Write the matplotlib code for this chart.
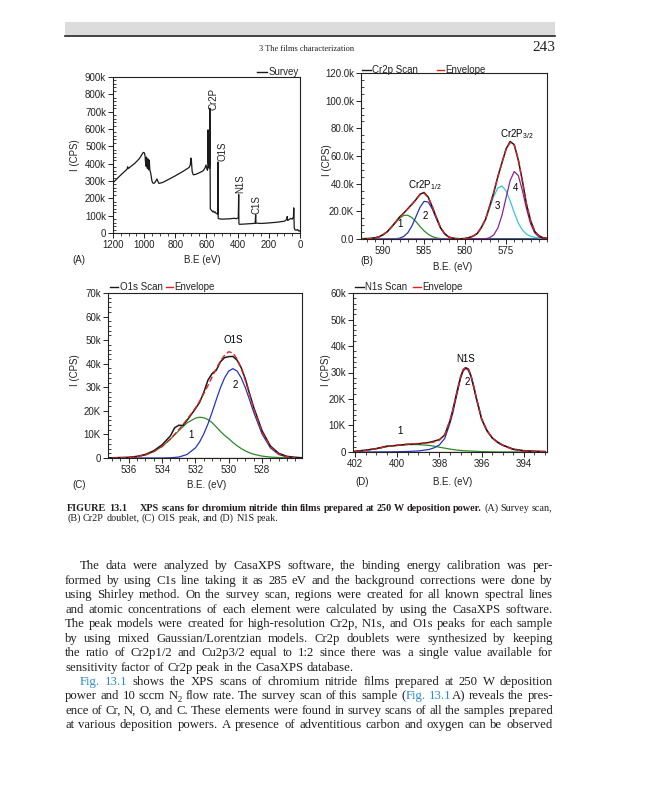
import math
import matplotlib
matplotlib.use('Agg')
import matplotlib.pyplot as plt
from matplotlib.ticker import MultipleLocator
from matplotlib.lines import Line2D
from matplotlib.patches import Rectangle
from matplotlib.font_manager import FontProperties

W, H = 647, 800
SANS = ['Liberation Sans', 'DejaVu Sans']
SERIF = 'Liberation Serif'
plt.rcParams['font.family'] = SANS
plt.rcParams['mathtext.fontset'] = 'custom'
plt.rcParams['mathtext.rm'] = 'Liberation Sans'
plt.rcParams['mathtext.it'] = 'Liberation Sans:italic'
plt.rcParams['mathtext.bf'] = 'Liberation Sans:bold'

# ---------------- data ----------------
# (A) survey scan: binding energy (eV) and intensity (k CPS)
survey_ev = [1200, 1150, 1110, 1106, 1102, 1060, 1030, 1015, 1006, 998, 994, 991, 988, 985, 982,
             979, 976, 973, 970, 967, 964, 958, 950, 944, 935, 925, 918, 912, 905, 880, 850, 800,
             750, 712, 704, 700, 697, 692, 685, 670, 640, 620, 610, 603, 598, 594, 591.5, 590,
             588.5, 584, 581, 579.5, 578.5, 577, 575.5, 570, 565, 560, 555, 550, 545, 540, 535,
             528, 526.5, 525, 520, 500, 450, 420, 410, 396, 393.5, 392, 390, 350, 300, 288, 284.5,
             282.5, 250, 200, 150, 100, 85, 82, 79, 60, 50, 42, 40, 37, 32, 25, 15, 10, 5, 0]
survey_k = [290, 335, 368, 382, 372, 402, 430, 452, 465, 462, 442, 405, 385, 438, 385,
            372, 428, 372, 364, 420, 366, 345, 300, 288, 287, 300, 312, 298, 286, 292, 306, 330,
            356, 378, 392, 432, 418, 355, 336, 338, 350, 360, 375, 392, 372, 362, 380, 595,
            410, 380, 372, 400, 720, 420, 140, 132, 128, 122, 126, 118, 122, 115, 112,
            110, 410, 84, 82, 80, 82, 85, 82, 88, 222, 56, 50, 52, 55, 56, 105,
            57, 55, 58, 62, 68, 78, 95, 72, 84, 80, 92, 145, 30, 18, 16, 20, 12, 14, 10]
survey_peaks = ['Cr2P', 'O1S', 'N1S', 'C1S']
survey_peak_ev = [557, 500, 385, 277]
survey_peak_k = [712, 418, 228, 112]

# (B) Cr2p region (k CPS)
cr_ev = [593, 592, 591.5, 591, 590.5, 590, 589.5, 589, 588.5, 588, 587.5, 587, 586.5, 586, 585.5,
         585, 584.5, 584, 583.5, 583, 582.5, 582, 581.5, 581, 580.5, 580, 579.5, 579, 578.5, 578,
         577.5, 577, 576.5, 576, 575.5, 575, 574.5, 574, 573.5, 573, 572.5, 572, 571.5, 571,
         570.5, 570]
cr_scan = [0.2, 0.3, 0.5, 0.9, 1.6, 3.2, 5.2, 8.6, 12.0, 15.9, 18.6, 21.9, 25.0, 28.4, 32.4,
           33.6, 30.3, 23.2, 15.6, 8.2, 3.9, 1.5, 0.6, 0.3, 0.2, 0.4, 1.1, 2.2, 4.0, 8.5,
           14.2, 23.8, 33.5, 45.1, 55.0, 65.0, 70.5, 68.2, 57.0, 41.9, 25.0, 13.3, 5.5, 2.4,
           1.0, 0.6]
cr_env = [0.0, 0.1, 0.3, 0.7, 1.5, 3.0, 5.3, 8.4, 12.1, 15.6, 18.8, 21.6, 24.8, 28.6, 32.0,
          33.1, 30.1, 23.5, 15.4, 8.4, 3.8, 1.4, 0.5, 0.1, 0.1, 0.3, 1.0, 2.0, 4.2, 8.2,
          14.5, 23.4, 33.8, 44.7, 55.4, 64.6, 69.8, 67.9, 57.4, 41.5, 25.3, 13.0, 5.7, 2.2,
          0.9, 0.4]
cr_c1 = [0.0, 0.1, 0.3, 0.7, 1.5, 3.0, 5.3, 8.4, 11.9, 15.0, 17.0, 17.2, 15.5, 12.6, 9.1,
         5.9, 3.4, 1.8, 0.8, 0.3, 0.1, 0.0, 0, 0, 0, 0, 0, 0, 0, 0,
         0, 0, 0, 0, 0, 0, 0, 0, 0, 0, 0, 0, 0, 0, 0, 0]
cr_c2 = [0, 0, 0, 0, 0, 0, 0, 0.0, 0.2, 0.6, 1.8, 4.4, 9.3, 16.0, 22.9,
         27.2, 26.7, 21.7, 14.6, 8.1, 3.7, 1.4, 0.5, 0.1, 0.0, 0, 0, 0, 0, 0,
         0, 0, 0, 0, 0, 0, 0, 0, 0, 0, 0, 0, 0, 0, 0, 0]
cr_c3 = [0, 0, 0, 0, 0, 0, 0, 0, 0, 0, 0, 0, 0, 0, 0,
         0, 0, 0, 0, 0, 0, 0, 0, 0.0, 0.1, 0.3, 1.0, 2.0, 4.2, 8.2,
         14.3, 22.5, 30.8, 36.8, 38.4, 34.9, 27.6, 19.1, 11.5, 6.5, 3.5, 2.0, 1.2, 0.7,
         0.5, 0.3]
cr_c4 = [0, 0, 0, 0, 0, 0, 0, 0, 0, 0, 0, 0, 0, 0, 0,
         0, 0, 0, 0, 0, 0, 0, 0, 0, 0, 0, 0, 0, 0, 0.0,
         0.2, 0.9, 3.0, 7.9, 17.0, 29.7, 42.2, 48.8, 45.9, 35.0, 21.8, 11.0, 4.5, 1.5,
         0.4, 0.1]

# (C) O1s region (k CPS)
o_scan_ev = [537.25, 537.0, 536.5, 536.0, 535.5, 535.0, 534.5, 534.0, 533.5, 533.25, 533.0, 532.75,
             532.5, 532.0, 531.75, 531.5, 531.25, 531.0, 530.75, 530.5, 530.25, 530.0, 529.75,
             529.5, 529.25, 529.0, 528.75, 528.5, 528.0, 527.5, 527.0, 526.5, 526.0, 525.6]
o_scan = [0.1, 0.1, 0.2, 0.3, 0.7, 1.5, 3.1, 5.6, 9.4, 12.8, 13.9, 13.8,
          16.0, 20.9, 23.6, 27.8, 33.0, 35.8, 37.2, 40.8, 42.6, 43.0, 43.1,
          41.5, 38.3, 33.5, 27.3, 21.5, 11.6, 5.1, 2.0, 0.7, 0.3, 0.1]
o_ev = [537.0, 536.5, 536.0, 535.5, 535.0, 534.5, 534.0, 533.5, 533.0, 532.5, 532.0, 531.75,
        531.5, 531.25, 531.0, 530.75, 530.5, 530.25, 530.0, 529.75, 529.5, 529.25, 529.0,
        528.75, 528.5, 528.0, 527.5, 527.0, 526.5, 526.0]
o_env = [0.0, 0.1, 0.2, 0.6, 1.3, 2.7, 4.9, 8.1, 12.0, 16.4, 21.2, 24.1,
         27.3, 30.7, 34.4, 37.9, 41.1, 43.6, 45.1, 44.5, 42.1, 38.0, 32.8,
         26.9, 21.0, 11.0, 4.7, 1.7, 0.5, 0.1]
o_c1 = [0.0, 0.1, 0.2, 0.6, 1.3, 2.7, 4.9, 8.0, 11.6, 14.9, 16.9, 17.3,
        17.1, 16.3, 15.0, 13.2, 11.3, 9.6, 8.2, 6.6, 5.2, 4.0, 3.0,
        2.2, 1.6, 0.8, 0.4, 0.2, 0.1, 0.0]
o_c2 = [0, 0, 0, 0, 0, 0, 0, 0.1, 0.4, 1.5, 4.3, 6.8,
        10.2, 14.4, 19.4, 24.7, 29.8, 34.0, 36.9, 37.9, 36.9, 34.0, 29.8,
        24.7, 19.4, 10.2, 4.3, 1.5, 0.4, 0.1]

# (D) N1s region (k CPS)
n_ev = [402.0, 401.5, 401.0, 400.5, 400.0, 399.5, 399.0, 398.5, 398.25, 398.0, 397.75, 397.5,
        397.375, 397.25, 397.125, 397.0, 396.875, 396.75, 396.625, 396.5, 396.375, 396.25,
        396.125, 396.0, 395.75, 395.5, 395.25, 395.0, 394.5, 394.0, 393.5, 393.0]
n_scan = [0.3, 0.7, 1.3, 2.2, 2.5, 2.9, 3.1, 3.6, 4.1, 4.7, 6.4, 11.8,
          15.6, 19.9, 24.3, 28.2, 31.0, 31.8, 31.3, 28.6, 24.8, 20.3,
          16.5, 12.4, 8.2, 5.3, 3.8, 2.6, 1.1, 0.5, 0.3, 0.2]
n_env = [0.2, 0.6, 1.2, 2.05, 2.6, 3.0, 3.2, 3.45, 3.8, 4.5, 6.55, 12.0,
         15.45, 19.8, 24.1, 28.4, 31.1, 32.05, 31.1, 28.75, 24.6, 20.45,
         16.3, 12.55, 8.0, 5.45, 3.6, 2.5, 0.95, 0.4, 0.2, 0.1]
n_c1 = [0.2, 0.6, 1.2, 2.0, 2.5, 2.8, 2.8, 2.5, 2.2, 1.8, 1.45, 1.1,
        0.95, 0.8, 0.7, 0.6, 0.5, 0.45, 0.4, 0.35, 0.3, 0.25,
        0.2, 0.15, 0.1, 0.05, 0.0, 0.0, 0.0, 0.0, 0.0, 0.0]
n_c2 = [0.0, 0.0, 0.02, 0.05, 0.1, 0.2, 0.4, 0.95, 1.6, 2.7, 5.1, 10.9,
        14.5, 19.0, 23.4, 27.8, 30.6, 31.6, 30.7, 28.4, 24.3, 20.2,
        16.1, 12.4, 7.9, 5.4, 3.6, 2.5, 0.95, 0.4, 0.2, 0.1]

# tick values and labels
a_xticks = [1200, 1000, 800, 600, 400, 200, 0]
a_yticks = [0, 100, 200, 300, 400, 500, 600, 700, 800, 900]
a_ylabels = ['0', '100k', '200k', '300k', '400k', '500k', '600k', '700k', '800k', '900k']
b_xticks = [590, 585, 580, 575]
b_yticks = [0, 20, 40, 60, 80, 100, 120]
b_ylabels = ['0.0', '20.0K', '40.0k', '60.0k', '80.0k', '100.0k', '120.0k']
c_xticks = [536, 534, 532, 530, 528]
c_yticks = [0, 10, 20, 30, 40, 50, 60, 70]
c_ylabels = ['0', '10K', '20K', '30k', '40k', '50k', '60k', '70k']
d_xticks = [402, 400, 398, 396, 394]
d_yticks = [0, 10, 20, 30, 40, 50, 60]
d_ylabels = ['0', '10K', '20K', '30k', '40k', '50k', '60k']

header_text = '3 The films characterization'
page_number = '243'
caption_head = 'FIGURE 13.1'
caption_line1 = '[XPS scans for chromium nitride thin films prepared at 250 W deposition power.] (A) Survey scan,'
caption_line2 = '(B) Cr2P doublet, (C) O1S peak, and (D) N1S peak.'
body_lines = [
    'The data were analyzed by CasaXPS software, the binding energy calibration was per-',
    'formed by using C1s line taking it as 285 eV and the background corrections were done by',
    'using Shirley method. On the survey scan, regions were created for all known spectral lines',
    'and atomic concentrations of each element were calculated by using the CasaXPS software.',
    'The peak models were created for high-resolution Cr2p, N1s, and O1s peaks for each sample',
    'by using mixed Gaussian/Lorentzian models. Cr2p doublets were synthesized by keeping',
    'the ratio of Cr2p1/2 and Cu2p3/2 equal to 1:2 since there was a single value available for',
    'sensitivity factor of Cr2p peak in the CasaXPS database.',
    '{Fig. 13.1} shows the XPS scans of chromium nitride films prepared at 250 W deposition',
    'power and 10 sccm N_2 flow rate. The survey scan of this sample ({Fig. 13.1}A) reveals the pres-',
    'ence of Cr, N, O, and C. These elements were found in survey scans of all the samples prepared',
    'at various deposition powers. A presence of adventitious carbon and oxygen can be observed',
]
body_indent = [True, False, False, False, False, False, False, False, True, False, False, False]
body_justify = [True, True, True, True, True, True, True, False, True, True, True, True]

# ---------------- styling ----------------
BLACK = '#1a1a1a'
RED = '#e0201c'
GREEN = '#2a8a2a'
BLUE = '#2535b8'
CYAN = '#35c6d8'
PURPLE = '#8a2496'
BROWN = '#c07a35'
TEXT_C = '#231f20'
LINK_C = '#2f8cc4'

fig = plt.figure(figsize=(W / 100, H / 100), dpi=100)
fig.patch.set_facecolor('white')


def fx(x):
    return x / W


def fy(y):
    return 1 - y / H


def add_ax(l, t, r, b):
    return fig.add_axes([fx(l), fy(b), (r - l) / W, (b - t) / H])


def style(ax, xlim, xticks, xminor, ylim, yticks, ylabels, yminor):
    ax.set_xlim(xlim)
    ax.set_ylim(ylim)
    ax.set_xticks(xticks)
    ax.set_xticklabels([str(v) for v in xticks])
    ax.xaxis.set_minor_locator(MultipleLocator(xminor))
    ax.set_yticks(yticks)
    ax.set_yticklabels(ylabels)
    ax.yaxis.set_minor_locator(MultipleLocator(yminor))
    ax.tick_params(which='major', direction='out', length=3.5, width=0.7, labelsize=7,
                   pad=1.5, colors='#222222')
    ax.tick_params(axis='x', which='minor', direction='out', length=2.2, width=0.6, colors='#222222')
    ax.tick_params(axis='y', which='minor', direction='in', length=2.2, width=0.6, colors='#222222')
    for s in ax.spines.values():
        s.set_linewidth(0.8)
        s.set_color('#222222')


def ftext(x, y, s, **kw):
    kw.setdefault('fontsize', 7)
    kw.setdefault('color', '#222222')
    return fig.text(fx(x), fy(y), s, **kw)


def legend_item(x0, x1, y, color, label):
    fig.add_artist(Line2D([fx(x0), fx(x1)], [fy(y), fy(y)], color=color, lw=1.0,
                          transform=fig.transFigure))
    ftext(x1 + 1.5, y, label, ha='left', va='center')


# ---- header ----
fig.add_artist(Rectangle((fx(65), fy(35)), (555 - 65) / W, 13 / H, transform=fig.transFigure,
                         facecolor='#dcdcdc', edgecolor='none'))
fig.add_artist(Line2D([fx(65), fx(555)], [fy(35.5), fy(35.5)], color='#222222', lw=1.2,
                      transform=fig.transFigure))
ftext(307, 51, header_text, family=SERIF, fontsize=6, ha='center', va='baseline', color=TEXT_C)
ftext(555, 51, page_number, family=SERIF, fontsize=11, ha='right', va='baseline', color=TEXT_C)

# ---- (A) survey ----
axA = add_ax(113, 77, 300, 233)
axA.plot(survey_ev, survey_k, color=BLACK, lw=0.9)
style(axA, (1200, 0), a_xticks, 50, (0, 900), a_yticks, a_ylabels, 20)
for name, xe, yk in zip(survey_peaks, survey_peak_ev, survey_peak_k):
    axA.text(xe, yk, name, rotation=90, ha='center', va='bottom', fontsize=7, color='#222222')
legend_item(257, 267, 72, BLACK, 'Survey')
ftext(75, 155, 'I (CPS)', rotation=90, ha='center', va='center')
ftext(72, 260, '(A)', ha='left', va='center')
ftext(202, 260, 'B.E (eV)', ha='center', va='center')

# ---- (B) Cr2p ----
axB = add_ax(361, 73, 547, 239)
axB.axhline(0, color=BROWN, lw=1.0)
axB.plot(cr_ev, cr_c1, color=GREEN, lw=0.9)
axB.plot(cr_ev, cr_c2, color=BLUE, lw=0.9)
axB.plot(cr_ev, cr_c3, color=CYAN, lw=0.9)
axB.plot(cr_ev, cr_c4, color=PURPLE, lw=0.9)
axB.plot(cr_ev, cr_scan, color=BLACK, lw=1.1)
axB.plot(cr_ev, cr_env, color=RED, lw=1.0, dashes=(4, 2))
style(axB, (592.7, 570.0), b_xticks, 1, (0, 120), b_yticks, b_ylabels, 5)
axB.text(584.9, 39.1, r'Cr2P$_{\mathrm{1/2}}$', ha='center', va='center', fontsize=7)
axB.text(573.7, 76.0, r'Cr2P$_{\mathrm{3/2}}$', ha='center', va='center', fontsize=7)
for lab, xe, yk in zip(['1', '2', '3', '4'], [588.0, 584.9, 576.1, 573.9], [11.0, 16.3, 23.5, 36.7]):
    axB.text(xe, yk, lab, ha='center', va='center', fontsize=7)
legend_item(362, 371, 70, BLACK, 'Cr2p Scan')
legend_item(437, 444, 70, RED, 'Envelope')
ftext(327, 160, 'I (CPS)', rotation=90, ha='center', va='center')
ftext(360, 261, '(B)', ha='left', va='center')
ftext(453, 267, 'B.E. (eV)', ha='center', va='center')

# ---- (C) O1s ----
axC = add_ax(108, 293, 302, 458)
axC.axhline(0, color=BROWN, lw=1.0)
axC.plot(o_ev, o_c1, color=GREEN, lw=0.9)
axC.plot(o_ev, o_c2, color=BLUE, lw=0.9)
axC.plot(o_scan_ev, o_scan, color=BLACK, lw=1.1)
axC.plot(o_ev, o_env, color=RED, lw=1.0, dashes=(4, 2))
style(axC, (537.25, 525.6), c_xticks, 0.5, (0, 70), c_yticks, c_ylabels, 2)
axC.text(529.7, 50.2, 'O1S', ha='center', va='center', fontsize=7)
axC.text(529.6, 31.1, '2', ha='center', va='center', fontsize=7)
axC.text(532.25, 9.6, '1', ha='center', va='center', fontsize=7)
legend_item(110, 118, 287, BLACK, 'O1s Scan')
legend_item(166, 173, 287, RED, 'Envelope')
ftext(75, 370, 'I (CPS)', rotation=90, ha='center', va='center')
ftext(72, 485, '(C)', ha='left', va='center')
ftext(207, 485, 'B.E. (eV)', ha='center', va='center')

# ---- (D) N1s ----
axD = add_ax(353, 293, 547, 452)
axD.axhline(0, color=BROWN, lw=1.0)
axD.plot(n_ev, n_c1, color=GREEN, lw=0.9)
axD.plot(n_ev, n_c2, color=BLUE, lw=0.9)
axD.plot(n_ev, n_scan, color=BLACK, lw=1.1)
axD.plot(n_ev, n_env, color=RED, lw=1.0, dashes=(4, 2))
style(axD, (402.1, 392.9), d_xticks, 0.5, (0, 60), d_yticks, d_ylabels, 2)
axD.text(396.76, 35.0, 'N1S', ha='center', va='center', fontsize=7)
axD.text(396.7, 26.6, '2', ha='center', va='center', fontsize=7)
axD.text(399.87, 7.8, '1', ha='center', va='center', fontsize=7)
legend_item(355, 364, 287, BLACK, 'N1s Scan')
legend_item(413, 421, 287, RED, 'Envelope')
ftext(326, 370, 'I (CPS)', rotation=90, ha='center', va='center')
ftext(355, 482, '(D)', ha='left', va='center')
ftext(453, 482, 'B.E. (eV)', ha='center', va='center')

# ---------------- justified text ----------------
renderer = fig.canvas.get_renderer()
try:
    from matplotlib.backends.backend_agg import get_hinting_flag
except Exception:
    get_hinting_flag = None


def parse(line):
    """Words as lists of (text, mode); {..}=link, [..]=bold, _x=subscript char."""
    words, cur = [], []
    st = {'buf': '', 'mode': None, 'sub': False}

    def flush():
        if st['buf']:
            cur.append((st['buf'], st['mode']))
            st['buf'] = ''

    for ch in line:
        if st['sub']:
            flush()
            cur.append((ch, 'sub'))
            st['sub'] = False
        elif ch == '_':
            flush()
            st['sub'] = True
        elif ch in '{[':
            flush()
            st['mode'] = 'link' if ch == '{' else 'bold'
        elif ch in '}]':
            flush()
            st['mode'] = None
        elif ch == ' ':
            flush()
            if cur:
                words.append(list(cur))
                cur.clear()
        else:
            st['buf'] += ch
    flush()
    if cur:
        words.append(list(cur))
    return words


def seg_kw(mode, size):
    kw = dict(fontsize=size, family=SERIF, color=TEXT_C, fontweight='normal')
    if mode == 'link':
        kw['color'] = LINK_C
    if mode == 'bold':
        kw['fontweight'] = 'bold'
    if mode == 'sub':
        kw['fontsize'] = size * 0.68
    return kw


_cache = {}


def width(s, kw):
    key = (s, kw['fontsize'], kw['fontweight'])
    if key not in _cache:
        t = fig.text(0, 0, s, **kw)
        _cache[key] = t.get_window_extent(renderer=renderer).width
        t.remove()
    return _cache[key]


def snapped_row(s, kw, target):
    """Row (from top) to anchor the baseline so that Agg's pixel rounding
    puts every word's baseline on the same integer pixel row."""
    target = int(round(target))
    try:
        prop = FontProperties(family=kw['family'], size=kw['fontsize'], weight=kw['fontweight'])
        font = renderer._prepare_font(prop)
        font.set_text(s, 0, flags=get_hinting_flag())
        _, hh = font.get_width_height()
        d = font.get_descent() / 64.0
        a = hh / 64.0 - d
        k = target + math.floor(a + d) - math.floor(a)
        return k - d
    except Exception:
        return float(target)


def natural(words, size):
    ws = [sum(width(s, seg_kw(m, size)) for s, m in w) for w in words]
    sp = width('a a', seg_kw(None, size)) - width('aa', seg_kw(None, size))
    return ws, sp


def draw_line(line, x0, x1, yb, size, justify):
    words = parse(line)
    ws, sp = natural(words, size)
    if justify and len(words) > 1:
        gap = (x1 - x0 - sum(ws)) / (len(words) - 1)
    else:
        gap = sp
    x = x0
    for w, wd in zip(words, ws):
        xx = x
        for s, m in w:
            kw = seg_kw(m, size)
            target = yb + (round(size * 0.36) if m == 'sub' else 0)
            row = snapped_row(s, kw, target)
            fig.text(fx(xx), fy(row), s, ha='left', va='baseline', **kw)
            xx += width(s, kw)
        x += wd + gap


def fit_size(lines, spans, base):
    worst = 0
    for ln, (a, b) in zip(lines, spans):
        ws, sp = natural(parse(ln), base)
        nat = sum(ws) + sp * 0.85 * (len(ws) - 1)
        worst = max(worst, nat / (b - a))
    return base / worst if worst > 1 else base


# caption
cap_size = fit_size([caption_line1], [(140, 552)], 7.4)
draw_line('[' + caption_head + ']', 67, 140, 511, cap_size, False)
draw_line(caption_line1, 140, 552, 511, cap_size, True)
draw_line(caption_line2, 67, 552, 521, cap_size, False)

# body
body_base = [569, 584, 598, 613, 627, 642, 656, 671, 685, 699, 714, 728]
spans = [(80 if ind else 65, 553) for ind in body_indent]
just_lines = [l for l, j in zip(body_lines, body_justify) if j]
just_spans = [s for s, j in zip(spans, body_justify) if j]
body_size = fit_size(just_lines, just_spans, 9.2)
for ln, (a, b), yb, j in zip(body_lines, spans, body_base, body_justify):
    draw_line(ln, a, b, yb, body_size, j)

fig.savefig('out.png', dpi=100, facecolor='white')
